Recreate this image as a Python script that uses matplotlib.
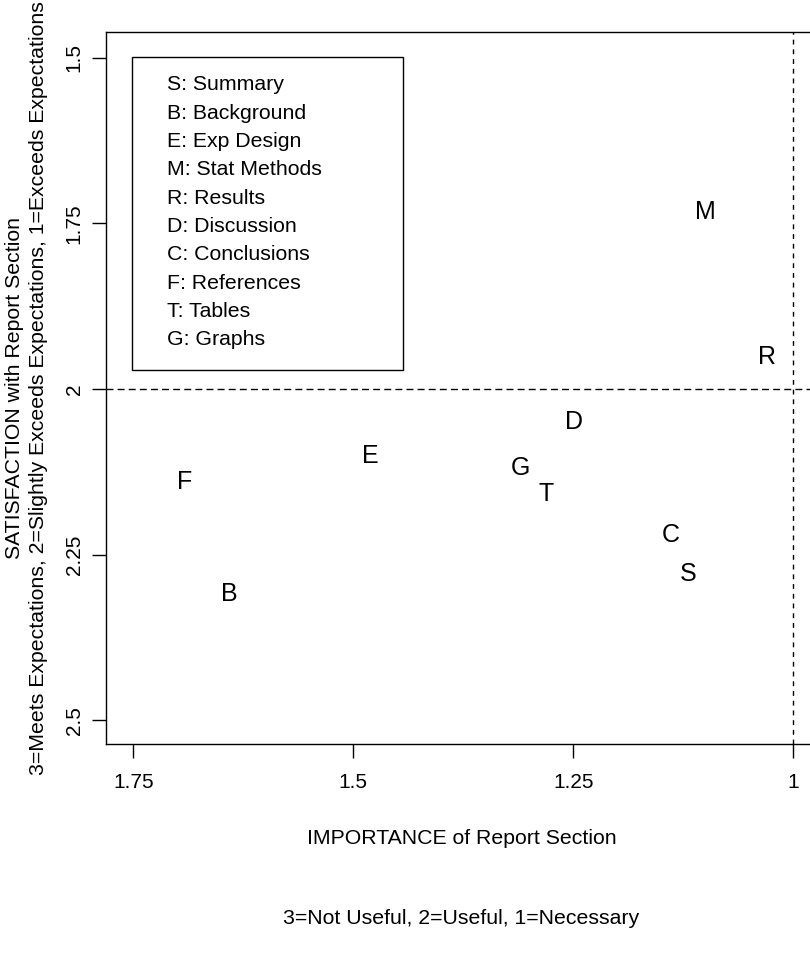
import matplotlib
matplotlib.use("Agg")
import matplotlib.pyplot as plt
from matplotlib.patches import Rectangle

plt.rcParams['font.family'] = ['Liberation Sans', 'DejaVu Sans']

# report sections: letter, importance (x), satisfaction (y)
letters = ["S", "B", "E", "M", "R", "D", "C", "F", "T", "G"]
names = ["Summary", "Background", "Exp Design", "Stat Methods", "Results",
         "Discussion", "Conclusions", "References", "Tables", "Graphs"]
importance = [1.119, 1.641, 1.481, 1.100, 1.030, 1.249, 1.139, 1.692, 1.281, 1.310]
satisfaction = [2.279, 2.310, 2.101, 1.733, 1.952, 2.050, 2.221, 2.140, 2.159, 2.119]

xticks = [1.75, 1.5, 1.25, 1]
xtick_labels = ["1.75", "1.5", "1.25", "1"]
yticks = [1.5, 1.75, 2, 2.25, 2.5]
ytick_labels = ["1.5", "1.75", "2", "2.25", "2.5"]

W, H = 810, 961
fig = plt.figure(figsize=(W / 100, H / 100), dpi=100)
# plot region runs off the right edge of the picture
ax = fig.add_axes([106 / W, 217 / H, (830 - 106) / W, 712 / H])

ax.set_xlim(1.781, 0.958)
ax.set_ylim(2.536, 1.461)

for x, y, s in zip(importance, satisfaction, letters):
    ax.text(x, y, s, ha='center', va='center', fontsize=18)

ax.axhline(2, color='black', lw=1, dashes=(5, 3))
ax.axvline(1, color='black', lw=1, dashes=(3.5, 3.5))

ax.set_xticks(xticks)
ax.set_xticklabels(xtick_labels, fontsize=15)
ax.set_yticks(yticks)
ax.set_yticklabels(ytick_labels, fontsize=15, rotation=90, va='center')
ax.tick_params(axis='both', direction='out', length=10, width=1)
ax.tick_params(axis='x', pad=11)
ax.tick_params(axis='y', pad=6)
for sp in ax.spines.values():
    sp.set_linewidth(1)

# key box
fig.patches.append(Rectangle((132 / W, 1 - 370 / H), (403 - 132) / W, (370 - 57) / H,
                             transform=fig.transFigure, fill=False,
                             edgecolor='black', lw=1))
for i, (s, n) in enumerate(zip(letters, names)):
    fig.text(167 / W, 1 - (85 + i * 28.3) / H, s + ": " + n,
             ha='left', va='center', fontsize=15.3)

fig.text(15 / W, 1 - 388 / H, "SATISFACTION with Report Section",
         rotation=90, ha='center', va='center', fontsize=15.3)
fig.text(39 / W, 1 - 388 / H,
         "3=Meets Expectations, 2=Slightly Exceeds Expectations, 1=Exceeds Expectations",
         rotation=90, ha='center', va='center', fontsize=15.3)
fig.text(462 / W, 1 - 838 / H, "IMPORTANCE of Report Section",
         ha='center', va='center', fontsize=15.3)
fig.text(461 / W, 1 - 919 / H, "3=Not Useful, 2=Useful, 1=Necessary",
         ha='center', va='center', fontsize=15.3)

fig.savefig("out.png", dpi=100)
